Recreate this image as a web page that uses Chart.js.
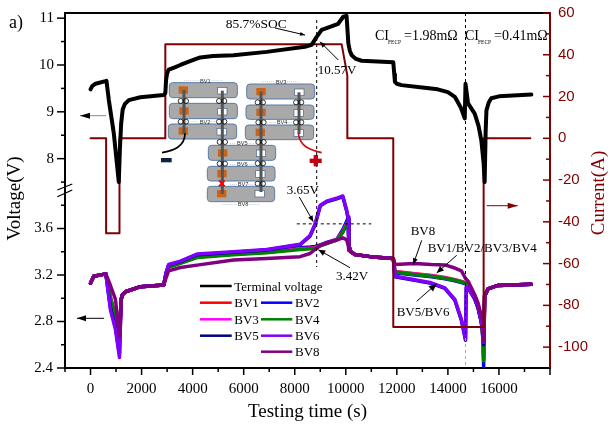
<!DOCTYPE html>
<html><head><meta charset="utf-8">
<style>html,body{margin:0;padding:0;background:#fff}canvas{display:block}</style>
<script src="https://cdn.jsdelivr.net/npm/chart.js@4"></script>
</head><body><canvas id="c" width="611" height="424"></canvas>
<script>
// ---- data ----
const tTerminal=[0,65,195,625,717,912,1107,1150,1200,1260,1350,1500,1950,2866,2930,2960,3000,3060,3300,3520,3900,4300,4800,5600,6900,8400,8660,8860,9055,9300,9700,9900,10030,10060,10100,10160,10230,10400,10620,11860,11900,11925,12000,12180,13000,13600,14000,14270,14500,14660,14690,14790,15050,15200,15310,15400,15440,15480,15510,15600,15700,16000,17270];
const vTerminal=[9.48,9.55,9.6,9.66,9.25,8.54,7.5,8.2,8.75,9.05,9.17,9.25,9.31,9.36,9.4,9.68,9.82,9.9,9.95,10.0,10.08,10.16,10.19,10.21,10.28,10.39,10.43,10.6,10.75,10.8,10.88,11.03,11.05,10.8,10.46,10.3,10.21,10.13,10.09,10.06,9.8,9.64,9.6,9.57,9.52,9.48,9.42,9.32,9.1,8.86,9.6,9.18,8.96,8.7,8.39,7.9,7.5,8.6,9.03,9.2,9.29,9.33,9.37];
const tCurrent=[0,610,610,1134,1134,2930,2930,9840,10060,10060,11860,11860,15400,15400,17230];
const iCurrent=[0,0,-45.5,-45.5,0,0,45,45,30,0,0,-90.4,-90.4,0,0];
const tCell=[0,125,600,780,977,1134,1200,1250,1370,1955,2866,
 2960,3060,3520,4170,5600,6900,8210,8600,8800,9000,9250,9640,9880,10030,10100,10120,10200,10360,10950,11860,
 11925,12700,13350,13880,14270,14530,14690,14720,14790,15050,15180,15310,15380,15400,15440,15570,15960,17270];
const bv1=[3.13,3.19,3.21,3.01,2.85,2.66,2.99,3.03,3.056,3.10,3.113,
 3.205,3.27,3.305,3.355,3.38,3.395,3.425,3.43,3.435,3.455,3.475,3.505,3.57,3.635,3.665,3.45,3.40,3.377,3.358,3.343,
 3.23,3.21,3.195,3.178,3.16,3.145,3.135,3.13,3.115,3.005,2.925,2.805,2.66,2.49,3.02,3.08,3.11,3.12];
const bv2=[3.13,3.19,3.21,2.99,2.82,2.62,2.99,3.03,3.056,3.10,3.113,
 3.21,3.275,3.31,3.36,3.39,3.405,3.435,3.44,3.445,3.46,3.48,3.505,3.59,3.66,3.70,3.45,3.40,3.377,3.358,3.343,
 3.22,3.2,3.185,3.168,3.15,3.135,3.125,3.12,3.105,2.995,2.915,2.795,2.63,2.415,3.02,3.08,3.11,3.12];
const bv3=[3.13,3.19,3.21,3.00,2.83,2.64,2.99,3.03,3.056,3.10,3.113,
 3.205,3.27,3.305,3.355,3.38,3.397,3.425,3.43,3.435,3.453,3.473,3.503,3.57,3.64,3.67,3.45,3.40,3.377,3.358,3.343,
 3.228,3.208,3.193,3.175,3.158,3.143,3.133,3.128,3.113,3.003,2.923,2.803,2.655,2.48,3.02,3.08,3.11,3.12];
const bv4=[3.13,3.19,3.21,3.00,2.84,2.68,2.99,3.03,3.056,3.10,3.113,
 3.20,3.265,3.30,3.35,3.375,3.392,3.42,3.425,3.43,3.45,3.47,3.50,3.565,3.63,3.66,3.45,3.40,3.377,3.358,3.343,
 3.225,3.205,3.19,3.172,3.155,3.14,3.13,3.125,3.11,3.00,2.92,2.80,2.65,2.46,3.02,3.08,3.11,3.12];
const bv5=[3.13,3.19,3.21,2.92,2.75,2.52,2.99,3.03,3.056,3.10,3.113,
 3.22,3.285,3.315,3.375,3.395,3.415,3.46,3.535,3.635,3.795,3.83,3.855,3.875,3.755,3.675,3.45,3.40,3.377,3.358,3.343,
 3.185,3.155,3.128,3.085,2.985,2.81,2.64,3.09,3.085,2.995,2.925,2.795,2.695,2.60,3.02,3.08,3.11,3.12];
const bv6=[3.13,3.19,3.21,2.90,2.73,2.49,2.99,3.03,3.056,3.10,3.113,
 3.22,3.29,3.32,3.38,3.40,3.42,3.465,3.54,3.64,3.80,3.835,3.86,3.88,3.76,3.68,3.45,3.40,3.377,3.358,3.343,
 3.19,3.16,3.133,3.09,2.99,2.817,2.65,3.10,3.09,3.00,2.93,2.80,2.70,2.62,3.02,3.08,3.11,3.12];
const bv8=[3.13,3.19,3.21,3.11,2.99,2.67,2.99,3.03,3.056,3.10,3.113,
 3.176,3.235,3.265,3.285,3.33,3.343,3.358,3.385,3.42,3.455,3.475,3.50,3.52,3.505,3.45,3.41,3.40,3.377,3.358,3.343,
 3.29,3.30,3.29,3.287,3.26,3.235,3.17,3.165,3.148,3.03,2.96,2.85,2.79,2.63,3.02,3.08,3.11,3.12];
const legendRows=[['Terminal voltage','#000000',null,null],['BV1','#ff0000','BV2','#0000ff'],['BV3','#ff00ff','BV4','#008000'],['BV5','#000080','BV6','#8000ff'],[null,null,'BV8','#800080']];
const SERIF='"Liberation Serif","Times New Roman",serif', SANS='"Liberation Sans",Arial,sans-serif';
const DARK='#800000';
const zip=(xs,ys)=>xs.map((x,i)=>({x,y:ys[i]}));
const line=(label,xs,ys,color,width,axis)=>({label,data:zip(xs,ys),borderColor:color,backgroundColor:color,borderWidth:width,yAxisID:axis,pointRadius:0,tension:0,fill:false,parsing:false,normalized:true,borderJoinStyle:'round',borderCapStyle:'round'});

function arrow(ctx,x0,y0,x1,y1,shaft,head,hl,hw){
  ctx.strokeStyle=shaft;ctx.lineWidth=1;ctx.beginPath();ctx.moveTo(x0,y0);ctx.lineTo(x1,y1);ctx.stroke();
  const a=Math.atan2(y1-y0,x1-x0);ctx.save();ctx.translate(x1,y1);ctx.rotate(a);ctx.fillStyle=head;
  ctx.beginPath();ctx.moveTo(0,0);ctx.lineTo(-hl,-hw);ctx.lineTo(-hl,hw);ctx.closePath();ctx.fill();ctx.restore();
}
function text(ctx,s,x,y,size,color,font){ctx.font=size+'px '+(font||SERIF);ctx.fillStyle=color||'#000';ctx.textAlign='left';ctx.textBaseline='alphabetic';ctx.fillText(s,x,y);}
function rr(ctx,x,y,w,h,r){ctx.beginPath();ctx.roundRect(x,y,w,h,r);}

function drawInset(ctx){
  ctx.save();ctx.translate(150,70);ctx.scale(1/3,1/3);
  const cells=[[58,38,204,45],[58,100,204,46],[55,162,205,45],[290,42,204,45],[288,105,204,43],[286,165,205,44],[175,226,202,45],[172,289,203,44],[172,349,202,46]];
  cells.forEach(c=>{rr(ctx,c[0],c[1],c[2],c[3],10);ctx.fillStyle='#a9a9a9';ctx.fill();ctx.strokeStyle='#5a7da8';ctx.lineWidth=3;ctx.stroke();});
  const orange=[[100,60],[102,123],[100,183],[333,65],[333,127],[331,187],[218,249],[216,311],[215,371]];
  orange.forEach(p=>{ctx.fillStyle='#c8641c';ctx.fillRect(p[0]-14,p[1]-11,28,22);});
  const white=[[217,62],[217,125],[215,185],[448,67],[446,129],[446,189],[333,250],[331,312],[329,371]];
  white.forEach(p=>{ctx.fillStyle='#fff';ctx.strokeStyle='#41618c';ctx.lineWidth=2;ctx.fillRect(p[0]-14,p[1]-10,28,20);ctx.strokeRect(p[0]-14,p[1]-10,28,20);});
  ctx.strokeStyle='#555';ctx.lineWidth=9;
  [[102,60,102,192],[217,62,217,372],[333,65,333,366],[447,67,447,192]].forEach(b=>{ctx.beginPath();ctx.moveTo(b[0],b[1]);ctx.lineTo(b[2],b[3]);ctx.stroke();});
  const rings=[[100,93],[215,93],[100,155],[215,155],[331,97],[446,97],[333,157],[446,157],[217,216],[333,216],[217,281],[331,280],[331,341]];
  ctx.strokeStyle='#111';ctx.lineWidth=2.5;
  rings.forEach(p=>{[-8,8].forEach(d=>{ctx.beginPath();ctx.arc(p[0]+d,p[1],7.5,0,Math.PI*2);ctx.stroke();});});
  ctx.strokeStyle='#ff0000';ctx.lineWidth=6;ctx.beginPath();ctx.moveTo(207,331);ctx.lineTo(224,349);ctx.moveTo(224,331);ctx.lineTo(207,349);ctx.stroke();
  ctx.strokeStyle='#000';ctx.lineWidth=5;ctx.beginPath();ctx.moveTo(105,190);ctx.bezierCurveTo(105,230,70,242,36,248);ctx.stroke();
  ctx.strokeStyle='#d01010';ctx.beginPath();ctx.moveTo(445,190);ctx.bezierCurveTo(450,230,480,240,515,248);ctx.stroke();
  ctx.fillStyle='#0a2440';ctx.fillRect(33,264,32,13);
  ctx.fillStyle='#c00010';ctx.fillRect(479,266,36,13);ctx.fillRect(491,255,13,34);
  ctx.strokeStyle='#8fa3c0';ctx.lineWidth=1.5;ctx.setLineDash([3,3]);
  [[103,32,148,32],[178,32,218,32],[333,35,375,35],[405,35,448,35],[103,155,145,155],[178,155,200,155],[346,157,378,157],[410,157,430,157],[240,220,258,220],[292,220,320,220],[240,283,258,283],[292,283,318,283],[240,343,260,343],[293,343,316,343],[215,403,262,403],[292,403,330,403]].forEach(l=>{ctx.beginPath();ctx.moveTo(l[0],l[1]);ctx.lineTo(l[2],l[3]);ctx.stroke();});
  ctx.setLineDash([]);
  [['BV1',150,38],['BV3',377,41],['BV2',149,161],['BV4',380,163],['BV5',261,226],['BV6',261,289],['BV7',263,349],['BV8',263,409]].forEach(t=>text(ctx,t[0],t[1],t[2],17,'#333',SANS));
  ctx.restore();
}

const decor={id:'decor',
 afterDatasetsDraw(chart){
  const ctx=chart.ctx,a=chart.chartArea,S=chart.scales;
  ctx.save();
  // dashed guides, placed through the scales
  ctx.strokeStyle='#000';ctx.lineWidth=1;ctx.setLineDash([3,3]);
  const x1=S.x.getPixelForValue(8860),x2=S.x.getPixelForValue(14690),hy=S.yLow.getPixelForValue(3.64);
  ctx.beginPath();ctx.moveTo(x1,20);ctx.lineTo(x1,267);ctx.moveTo(x2,a.top);ctx.lineTo(x2,338);
  ctx.moveTo(S.x.getPixelForValue(8080),hy);ctx.lineTo(S.x.getPixelForValue(11000),hy);ctx.stroke();
  ctx.strokeStyle='#aaa';ctx.beginPath();ctx.moveTo(x2,338);ctx.lineTo(x2,a.bottom);ctx.stroke();
  ctx.setLineDash([]);
  drawInset(ctx);
  // frame top and ticks
  ctx.strokeStyle='#000';ctx.lineWidth=2;ctx.beginPath();ctx.moveTo(a.left-1,a.top);ctx.lineTo(a.right,a.top);ctx.stroke();
  const inRange=(s,v)=>v>=Math.min(s.min,s.max)&&v<=Math.max(s.min,s.max);
  ['yHigh','yLow'].forEach(id=>{const s=S[id];s.ticks.forEach(t=>{if(!inRange(s,t.value))return;const y=s.getPixelForValue(t.value);const l=t.label!==''?8:4;
    ctx.strokeStyle='#000';ctx.lineWidth=1.5;ctx.beginPath();ctx.moveTo(a.left,y);ctx.lineTo(a.left-l,y);ctx.stroke();});});
  S.x.ticks.forEach(t=>{const x=S.x.getPixelForValue(t.value);const l=t.value%2000===0?7:4;ctx.strokeStyle='#000';ctx.lineWidth=1.5;ctx.beginPath();ctx.moveTo(x,a.bottom);ctx.lineTo(x,a.bottom+l);ctx.stroke();});
  S.yI.ticks.forEach(t=>{if(t.value<=S.yI.min)return;const y=S.yI.getPixelForValue(t.value);const l=t.label!==''?7:4;ctx.strokeStyle=DARK;ctx.lineWidth=1.5;ctx.beginPath();ctx.moveTo(a.right,y);ctx.lineTo(a.right-l,y);ctx.stroke();});
  // axis break marks
  ctx.strokeStyle='#000';ctx.lineWidth=1.2;ctx.beginPath();ctx.moveTo(57.3,190);ctx.lineTo(72.3,184);ctx.moveTo(57.3,196.7);ctx.lineTo(72.3,190);ctx.stroke();
  // rotated axis titles
  ctx.save();ctx.translate(20,198.5);ctx.rotate(-Math.PI/2);ctx.font='19px '+SERIF;ctx.fillStyle='#000';ctx.textAlign='center';ctx.textBaseline='alphabetic';ctx.fillText('Voltage(V)',0,0);ctx.restore();
  ctx.save();ctx.translate(604,193);ctx.rotate(-Math.PI/2);ctx.font='19px '+SERIF;ctx.fillStyle=DARK;ctx.textAlign='center';ctx.textBaseline='alphabetic';ctx.fillText('Current(A)',0,0);ctx.restore();
  // annotations
  text(ctx,'a)',9,28,18);
  text(ctx,'85.7%SOC',225.7,28,13.5);arrow(ctx,275,28,305,35,'#000','#000',5,2);
  text(ctx,'10.57V',317.7,74,13);arrow(ctx,338.3,60,320,41.7,'#000','#000',6,2.5);
  text(ctx,'CI',375,40,14);text(ctx,'FECP',388,44,5.5);text(ctx,'=1.98mΩ',404,40,14);
  text(ctx,'CI',465,40,14);text(ctx,'FECP',478,44,5.5);text(ctx,'=0.41mΩ',494,40,14);
  text(ctx,'3.65V',286.7,194,13);arrow(ctx,299.3,197,313.3,221.7,'#000','#000',6,2.5);
  text(ctx,'3.42V',336,280,13);arrow(ctx,350,267.7,318.3,249.7,'#000','#000',7,3);
  text(ctx,'BV8',410.7,235.3,13);arrow(ctx,421.7,240.3,413.3,264.3,'#000','#000',6,2.5);
  text(ctx,'BV1/BV2/BV3/BV4',427.7,252,13);arrow(ctx,456.7,255.3,436.7,273,'#000','#000',7,3);
  text(ctx,'BV5/BV6',396.7,316,13);arrow(ctx,416.7,301.3,436.7,283.7,'#000','#000',8,3.5);
  arrow(ctx,106,115.7,80,115.7,'#888','#000',10,3);
  arrow(ctx,104,318.3,77,318.3,'#000','#000',9,3);
  arrow(ctx,486.7,205.7,517.7,205.7,DARK,DARK,10,3);
  // legend
  const ys=[286,302.7,319.3,335.7,351.7];
  legendRows.forEach((r,i)=>{
    if(r[0]){ctx.strokeStyle=r[1];ctx.lineWidth=2.5;ctx.beginPath();ctx.moveTo(200,ys[i]);ctx.lineTo(231.7,ys[i]);ctx.stroke();text(ctx,r[0],234.3,ys[i]+4.5,13);}
    if(r[2]){ctx.strokeStyle=r[3];ctx.lineWidth=2.5;ctx.beginPath();ctx.moveTo(261,ys[i]);ctx.lineTo(292.3,ys[i]);ctx.stroke();text(ctx,r[2],295,ys[i]+4.5,13);}
  });
  ctx.restore();
 }};

const noPad=s=>{s.paddingTop=0;s.paddingBottom=0;};
const leftFit=s=>{s.width=65;noPad(s);};
new Chart(document.getElementById('c'),{
 type:'line',
 data:{datasets:[
  line('Terminal voltage',tTerminal,vTerminal,'#000000',4,'yHigh'),
  line('Current',tCurrent,iCurrent,DARK,2,'yI'),
  line('BV8',tCell,bv8,'#800080',3.5,'yLow'),
  line('BV6',tCell,bv6,'#8000ff',3.5,'yLow'),
  line('BV5',tCell,bv5,'#000080',3.5,'yLow'),
  line('BV4',tCell,bv4,'#008000',3.5,'yLow'),
  line('BV3',tCell,bv3,'#ff00ff',3.5,'yLow'),
  line('BV1',tCell,bv1,'#ff0000',3.5,'yLow'),
  line('BV2',tCell,bv2,'#0000ff',3.5,'yLow')
 ]},
 options:{responsive:false,animation:false,devicePixelRatio:1,
  layout:{padding:{top:13,left:0,right:0,bottom:0}},
  plugins:{legend:{display:false},tooltip:{enabled:false}},
  scales:{
   x:{type:'linear',min:-1000,max:18000,
     grid:{display:true,drawOnChartArea:false,drawTicks:false},
     border:{display:true,color:'#000',width:2},
     ticks:{stepSize:1000,autoSkip:false,maxRotation:0,padding:12,color:'#000',font:{family:SERIF,size:15},
       callback:v=>(v>=0&&v<=16000&&v%2000===0)?String(v):''},
     title:{display:true,text:'Testing time (s)',color:'#000',font:{family:SERIF,size:19},padding:{top:0,bottom:1}},
     afterFit:s=>{s.height=56;}},
   yLow:{type:'linear',position:'left',stack:'v',stackWeight:1,min:2.4,max:3.927,
     grid:{display:true,drawOnChartArea:false,drawTicks:false},
     border:{display:true,color:'#000',width:2},
     ticks:{stepSize:0.2,autoSkip:false,includeBounds:false,padding:12,color:'#000',font:{family:SERIF,size:15},
       callback:v=>Math.round(v*10)%4===0?v.toFixed(1):''},
     afterFit:leftFit},
   yHigh:{type:'linear',position:'left',stack:'v',stackWeight:1,min:7.32,max:11.11,
     grid:{display:true,drawOnChartArea:false,drawTicks:false},
     border:{display:true,color:'#000',width:2},
     ticks:{stepSize:0.5,autoSkip:false,includeBounds:false,padding:11,color:'#000',font:{family:SERIF,size:15},
       callback:v=>v%1===0?String(v):''},
     afterFit:leftFit},
   yI:{type:'linear',position:'right',min:-110,max:60,
     grid:{display:true,drawOnChartArea:false,drawTicks:false},
     border:{display:true,color:DARK,width:2},
     ticks:{stepSize:10,autoSkip:false,includeBounds:false,padding:8,color:DARK,font:{family:SANS,size:15},
       callback:v=>v%20===0?String(v):''},
     afterFit:s=>{s.width=61;noPad(s);}}
  }},
 plugins:[decor]
});
</script></body></html>
